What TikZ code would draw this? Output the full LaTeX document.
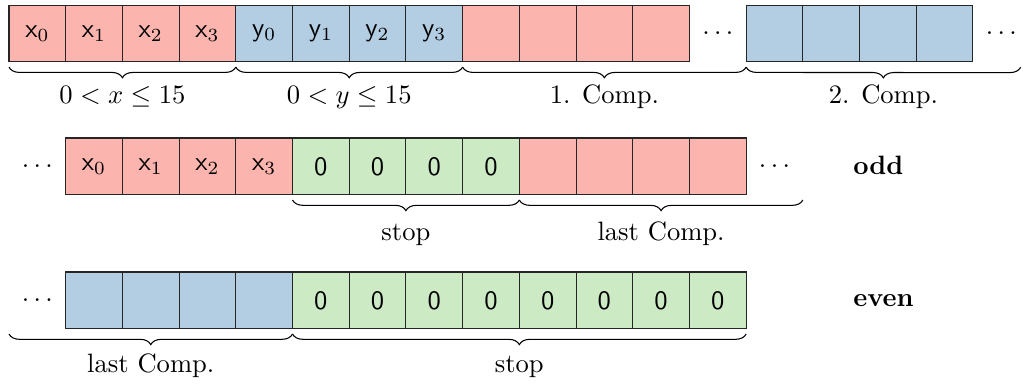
\documentclass[tikz,border=0pt]{standalone}
\usetikzlibrary{decorations.pathreplacing}
\definecolor{pred}{HTML}{FBB4AE}
\definecolor{pblue}{HTML}{B3CDE3}
\definecolor{pgreen}{HTML}{CCEBC5}
\begin{document}
\begin{tikzpicture}[x=0.75cm,y=-0.75cm,
  cell/.style={draw=black!85, minimum width=0.75cm, minimum height=0.75cm, inner sep=0pt, outer sep=0pt, font=\sffamily},
  brc/.style={decorate, decoration={brace, mirror, amplitude=4pt}, thin},
  lbl/.style={anchor=base, inner sep=0pt},
  tag/.style={anchor=base west, inner sep=0pt, font=\bfseries},
  dotsn/.style={inner sep=0pt}]
\useasboundingbox (0,0) rectangle (18.042,6.755);
\def\a{0.159}
% ---- row 1 ----
\foreach \i in {0,...,3} {
  \node[cell,fill=pred] (r1c\i) at (\a+\i+0.5,0.59) {x$_{\i}$};
  \pgfmathtruncatemacro\j{\i+4}
  \node[cell,fill=pblue] (r1c\j) at (\a+\j+0.5,0.59) {y$_{\i}$};
  \pgfmathtruncatemacro\k{\i+8}
  \node[cell,fill=pred] (r1c\k) at (\a+\k+0.5,0.59) {};
  \pgfmathtruncatemacro\m{\i+13}
  \node[cell,fill=pblue] (r1c\m) at (\a+\m+0.5,0.59) {};
}
\node[dotsn] (r1d1) at (\a+12.5,0.59) {$\ldots$};
\node[dotsn] (r1d2) at (\a+17.5,0.59) {$\ldots$};
\coordinate (e1) at (18.0,1.093);
\draw[brc] ([yshift=-2pt]r1c0.south west) -- ([yshift=-2pt]r1c3.south east);
\draw[brc] ([yshift=-2pt]r1c4.south west) -- ([yshift=-2pt]r1c7.south east);
\draw[brc] ([yshift=-2pt]r1c8.south west) -- ([yshift=-2pt]r1c13.south west);
\draw[brc] ([yshift=-2pt]r1c13.south west) -- ([yshift=-2pt]e1);
\node[lbl] (l1a) at (\a+2,1.834) {$0<x\le15$};
\node[lbl] (l1b) at (\a+6,1.834) {$0<y\le15$};
\node[lbl] (l1c) at (\a+10.5,1.834) {1. Comp.};
\node[lbl] (l1d) at (15.58,1.834) {2. Comp.};
% ---- row 2 ----
\node[dotsn] (r2d0) at (\a+0.5,2.934) {$\ldots$};
\foreach \i in {0,...,3} {
  \pgfmathtruncatemacro\j{\i+1}
  \node[cell,fill=pred] (r2c\j) at (\a+\j+0.5,2.934) {x$_{\i}$};
  \pgfmathtruncatemacro\k{\i+5}
  \node[cell,fill=pgreen] (r2c\k) at (\a+\k+0.5,2.934) {0};
  \pgfmathtruncatemacro\m{\i+9}
  \node[cell,fill=pred] (r2c\m) at (\a+\m+0.5,2.934) {};
}
\node[dotsn] (r2d1) at (\a+13.5,2.934) {$\ldots$};
\node[tag] (odd) at (15.04,3.086) {odd};
\coordinate (e2) at (\a+14,3.434);
\draw[brc] ([yshift=-2pt]r2c5.south west) -- ([yshift=-2pt]r2c8.south east);
\draw[brc] ([yshift=-2pt]r2c9.south west) -- ([yshift=-2pt]e2);
\node[lbl] (l2a) at (\a+7,4.233) {stop};
\node[lbl] (l2b) at (\a+11.5,4.233) {last Comp.};
% ---- row 3 ----
\node[dotsn] (r3d0) at (\a+0.5,5.297) {$\ldots$};
\foreach \i in {1,...,4} {
  \node[cell,fill=pblue] (r3c\i) at (\a+\i+0.5,5.297) {};
}
\foreach \i in {5,...,12} {
  \node[cell,fill=pgreen] (r3c\i) at (\a+\i+0.5,5.297) {0};
}
\node[tag] (even) at (15.04,5.414) {even};
\coordinate (s3) at (\a,5.797);
\draw[brc] ([yshift=-2pt]s3) -- ([yshift=-2pt]r3c4.south east);
\draw[brc] ([yshift=-2pt]r3c5.south west) -- ([yshift=-2pt]r3c12.south east);
\node[lbl] (l3a) at (\a+2.5,6.578) {last Comp.};
\node[lbl] (l3b) at (\a+9,6.578) {stop};
\end{tikzpicture}
\end{document}
